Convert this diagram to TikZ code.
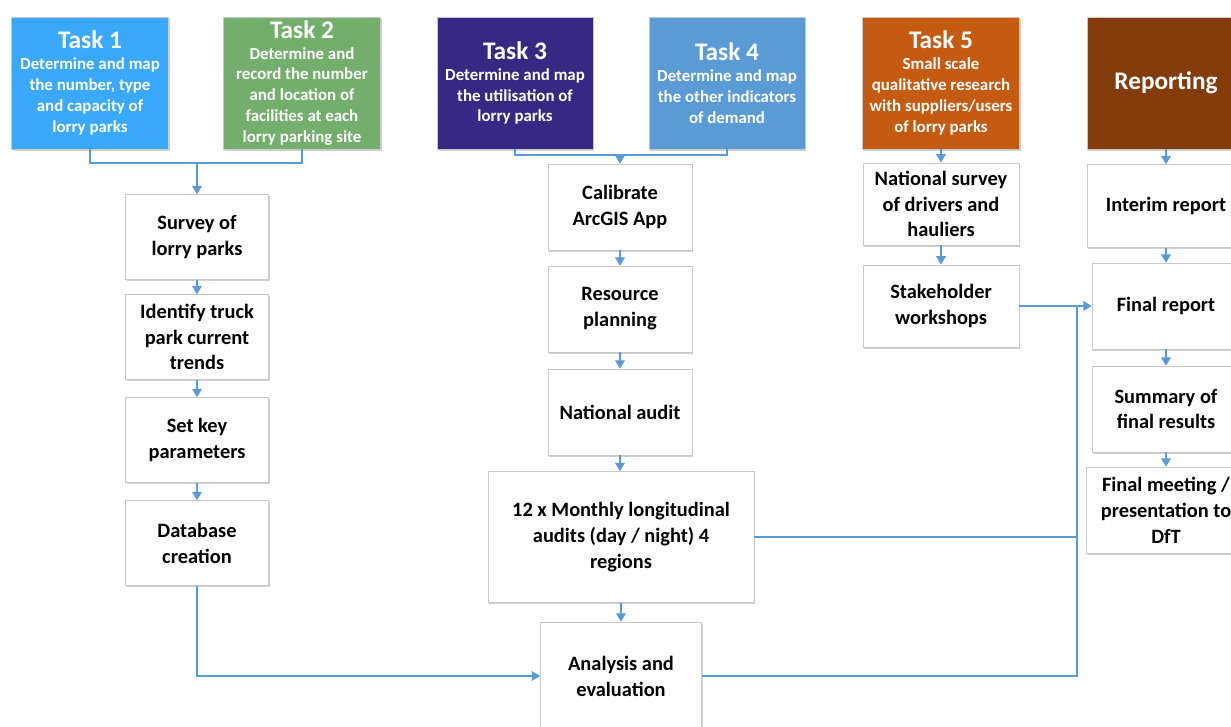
\documentclass[tikz,border=0pt]{standalone}
\usepackage{fontspec}
\setmainfont{Carlito}
\usetikzlibrary{arrows.meta,shadows}
\definecolor{taskone}{HTML}{3AA8FB}
\definecolor{tasktwo}{HTML}{73AE6C}
\definecolor{taskthree}{HTML}{372983}
\definecolor{taskfour}{HTML}{5B9BD5}
\definecolor{taskfive}{HTML}{C55A11}
\definecolor{reporting}{HTML}{843C0C}
\definecolor{linkblue}{HTML}{5B9BD5}
\definecolor{boxgrey}{HTML}{C9C9C9}
\tikzset{
	softshadow/.style={drop shadow={shadow xshift=1pt,shadow yshift=-1.2pt,opacity=0.18,fill=black}},
	stepbox/.style={draw=boxgrey,fill=white,align=center,inner sep=0pt,softshadow,
		font=\bfseries\fontsize{14.5}{18.4}\selectfont},
	leftbox/.style={stepbox,minimum width=3.575cm,minimum height=2.125cm},
	midbox/.style={stepbox,minimum width=3.6cm,minimum height=2.15cm},
	rightbox/.style={stepbox,minimum width=3.9cm,minimum height=2.06cm},
	taskbox/.style={draw=boxgrey,align=center,inner sep=0pt,text=white,softshadow,
		minimum width=3.925cm,minimum height=3.3cm,
		font=\bfseries\fontsize{12}{14.9}\selectfont},
	link/.style={draw=linkblue,line width=0.75pt},
	linkarrow/.style={link,arrows=-{Triangle[width=7pt,length=6pt]}}
}
\newcommand{\tasktitle}[1]{{\fontsize{18}{21}\selectfont #1}}
\begin{document}
\begin{tikzpicture}[x=0.025cm,y=-0.025cm]
	\clip (0,0) rectangle (1231,726);
	\fill[white] (0,0) rectangle (1231,726);

	\node[taskbox,fill=taskone] (task1) at (90,83) {\tasktitle{Task 1}\\Determine and map\\the number, type\\and capacity of\\lorry parks};
	\node[taskbox,fill=tasktwo] (task2) at (302,83) {\tasktitle{Task 2}\\Determine and\\record the number\\and location of\\facilities at each\\lorry parking site};
	\node[taskbox,fill=taskthree,minimum width=3.9cm] (task3) at (515,83) {\tasktitle{Task 3}\\Determine and map\\the utilisation of\\lorry parks};
	\node[taskbox,fill=taskfour,minimum width=3.9cm] (task4) at (727,83) {\tasktitle{Task 4}\\Determine and map\\the other indicators\\of demand};
	\node[taskbox,fill=taskfive] (task5) at (941,83) {\tasktitle{Task 5}\\Small scale\\qualitative research\\with suppliers/users\\of lorry parks};
	\node[taskbox,fill=reporting,minimum width=3.95cm] (report) at (1166,83) {\tasktitle{Reporting}};

	\node[leftbox] (survey) at (197,237) {Survey of\\lorry parks};
	\node[leftbox] (trends) at (197,337) {Identify truck\\park current\\trends};
	\node[leftbox] (params) at (197,440) {Set key\\parameters};
	\node[leftbox] (database) at (197,543) {Database\\creation};

	\node[midbox] (calibrate) at (620,207) {Calibrate\\ArcGIS App};
	\node[midbox] (resource) at (620,309) {Resource\\planning};
	\node[midbox] (audit) at (620,412) {National audit};
	\node[stepbox,minimum width=6.65cm,minimum height=3.275cm] (monthly) at (621,537) {12 x Monthly longitudinal\\audits (day / night) 4\\regions};
	\node[stepbox,minimum width=4.025cm,minimum height=2.7cm] (analysis) at (621,676) {Analysis and\\evaluation};

	\node[rightbox] (drivers) at (941,204) {National survey\\of drivers and\\hauliers};
	\node[rightbox] (workshops) at (941,306) {Stakeholder\\workshops};

	\node[stepbox,minimum width=3.95cm,minimum height=2.075cm] (interim) at (1166,206) {Interim report};
	\node[stepbox,minimum width=3.7cm,minimum height=2.15cm] (final) at (1166,306) {Final report};
	\node[stepbox,minimum width=3.7cm,minimum height=2.15cm] (summary) at (1166,409) {Summary of\\final results};
	\node[stepbox,minimum width=4cm,minimum height=2.15cm] (meeting) at (1166,510) {Final meeting /\\presentation to\\DfT};

	\coordinate (j1) at (197,163);
	\coordinate (j2) at (620,155);
	\coordinate (j3) at (1077,306);
	\draw[link] (task1.south) |- (j1) -| (task2.south);
	\draw[linkarrow] (j1) -- (survey.north);
	\draw[link] (task3.south) |- (j2) -| (task4.south);
	\draw[linkarrow] (j2) -- (calibrate.north);
	\foreach \a/\b in {survey/trends,trends/params,params/database,calibrate/resource,resource/audit,audit/monthly,monthly/analysis,task5/drivers,drivers/workshops,report/interim,interim/final,final/summary,summary/meeting}
		\draw[linkarrow] (\a.south) -- (\a.south |- \b.north);
	\draw[linkarrow] (database.south) |- (analysis.west);
	\draw[link] (analysis.east) -| (j3);
	\draw[link] (monthly.east) -- (monthly.east -| j3);
	\draw[linkarrow] (workshops.east) -- (final.west);
\end{tikzpicture}
\end{document}
